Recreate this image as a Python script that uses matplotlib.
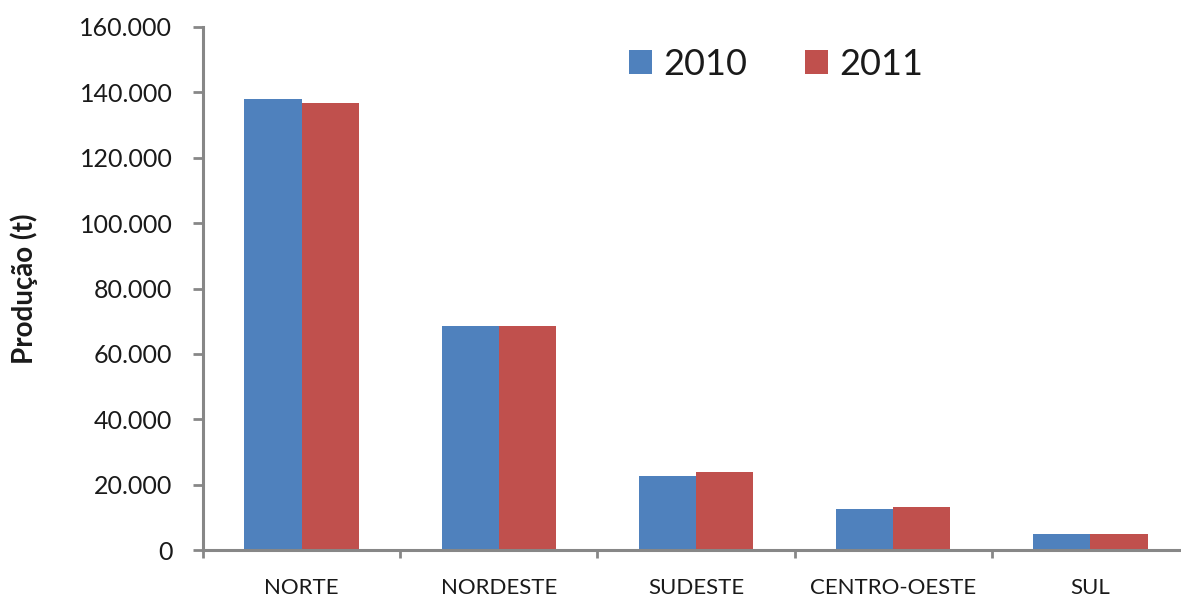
import matplotlib
matplotlib.use("Agg")
import matplotlib.pyplot as plt
import numpy as np
from matplotlib.ticker import FuncFormatter

categories = ["NORTE", "NORDESTE", "SUDESTE", "CENTRO-OESTE", "SUL"]
series_2010 = [138100, 68500, 22600, 12500, 4900]
series_2011 = [136900, 68500, 23800, 13100, 4900]
years = ["2010", "2011"]
y_ticks = [0, 20000, 40000, 60000, 80000, 100000, 120000, 140000, 160000]

plt.rcParams['font.family'] = ['Lato', 'DejaVu Sans']

fig = plt.figure(figsize=(11.81, 5.97), dpi=100)
W, H = 1181, 597
x0, x1 = 203, 1189
y0, y1 = 550, 27
ax = fig.add_axes([x0 / W, (H - y0) / H, (x1 - x0) / W, (y0 - y1) / H])

blue = "#4F81BD"
red = "#C0504D"
x = np.arange(len(categories))
bw = 0.29
ax.bar(x - bw / 2, series_2010, bw, color=blue, label=years[0], zorder=2)
ax.bar(x + bw / 2, series_2011, bw, color=red, label=years[1], zorder=2)

ax.set_xlim(-0.5, len(categories) - 0.5)
ax.set_ylim(0, 160000)

for s in ["top", "right"]:
    ax.spines[s].set_visible(False)
for s in ["left", "bottom"]:
    ax.spines[s].set_color("#878787")
    ax.spines[s].set_linewidth(2.2)

ax.set_yticks(y_ticks)
ax.yaxis.set_major_formatter(FuncFormatter(lambda v, p: f"{int(v):,}".replace(",", ".")))
ax.tick_params(axis="y", direction="out", length=7, width=2, color="#878787",
               labelsize=18, pad=15, labelcolor="#1a1a1a")

ax.set_xticks(np.arange(len(categories) + 1) - 0.5)
ax.set_xticklabels([])
ax.tick_params(axis="x", which="major", direction="out", length=6, width=2, color="#878787")
ax.set_xticks(x, minor=True)
ax.set_xticklabels(categories, minor=True)
ax.tick_params(axis="x", which="minor", length=0, labelsize=16, pad=20, labelcolor="#1a1a1a")

ax.set_ylabel("Produção (t)", fontsize=20, fontweight="bold", labelpad=30, color="#1a1a1a")

leg = ax.legend(loc="upper left", bbox_to_anchor=((596 - x0) / (x1 - x0), 1.022),
                ncol=2, frameon=False, fontsize=26, handlelength=0.65, handleheight=0.65,
                handletextpad=0.3, columnspacing=1.6, labelcolor="#1a1a1a")

fig.savefig("out.png", dpi=100)
